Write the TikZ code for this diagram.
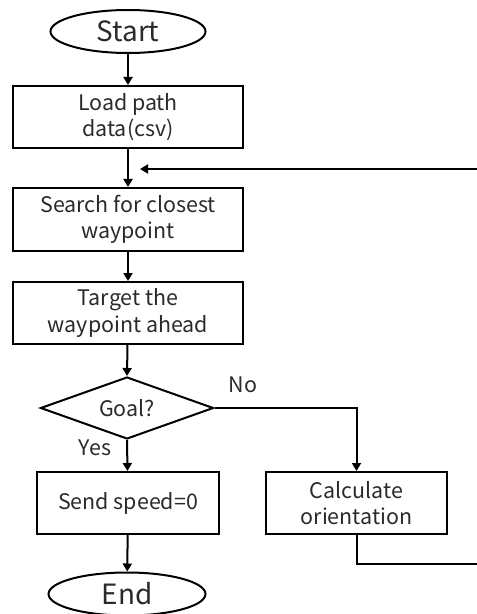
\documentclass[tikz,border=0pt]{standalone}
\usepackage{fontspec}
\setmainfont{Noto Sans CJK JP}
\usetikzlibrary{shapes.geometric,arrows.meta}
\definecolor{ink}{HTML}{2A2A2A}
\tikzset{
  every node/.style={text=ink, font=\fontsize{21.5}{26.5}\selectfont},
  proc/.style={draw=black, line width=2bp, rectangle, inner sep=0pt, align=center},
  term/.style={draw=black, line width=2bp, ellipse, inner sep=0pt, font=\fontsize{28}{32}\selectfont},
  decide/.style={draw=black, line width=2bp, diamond, inner sep=0pt, aspect=2.8},
  flow/.style={draw=black, line width=2bp, -{Triangle[length=8bp,width=9bp]}},
  lbl/.style={inner sep=0pt}
}
\begin{document}
\begin{tikzpicture}[x=1bp,y=-1bp]
\useasboundingbox (0,0) rectangle (477,614);
\clip (0,0) rectangle (477,614);

% terminals
\node[term, minimum width=155bp, minimum height=43bp] (start) at (128,31.5) {Start};
\node[term, minimum width=157bp, minimum height=43bp] (end) at (127,594) {End};

% process boxes
\node[proc, minimum width=230bp, minimum height=62bp] (load) at (128,117) {Load path\\data(csv)};
\node[proc, minimum width=230bp, minimum height=63bp] (search) at (128,219.5) {Search for closest\\waypoint};
\node[proc, minimum width=230bp, minimum height=62bp] (target) at (128,313) {Target the\\waypoint ahead};
\node[decide, minimum width=173bp, minimum height=62bp] (goal) at (127,408) {Goal?};
\node[proc, minimum width=182bp, minimum height=62bp] (send) at (128,503) {Send speed=0};
\node[proc, minimum width=181bp, minimum height=62bp] (calc) at (356.5,503) {Calculate\\orientation};

% branch labels
\node[lbl] (nolbl) at (243,385) {No};
\node[lbl] (yeslbl) at (95,448) {Yes};

% loop-back route points
\coordinate (loopin) at (140,169);
\coordinate (rb) at (495,564);
\coordinate (rt) at (495,169);

% connectors
\draw[flow] (start) -- (load);
\draw[flow] (load) -- (search);
\draw[flow] (search) -- (target);
\draw[flow] (target) -- (goal.north);
\draw[flow] (goal.south) -- (send);
\draw[flow] (goal.east) -| (calc.north);
\draw[flow] (send) -- (end);
\draw[flow] (calc.south) |- (rb) -- (rt) -- (loopin);
\end{tikzpicture}
\end{document}
